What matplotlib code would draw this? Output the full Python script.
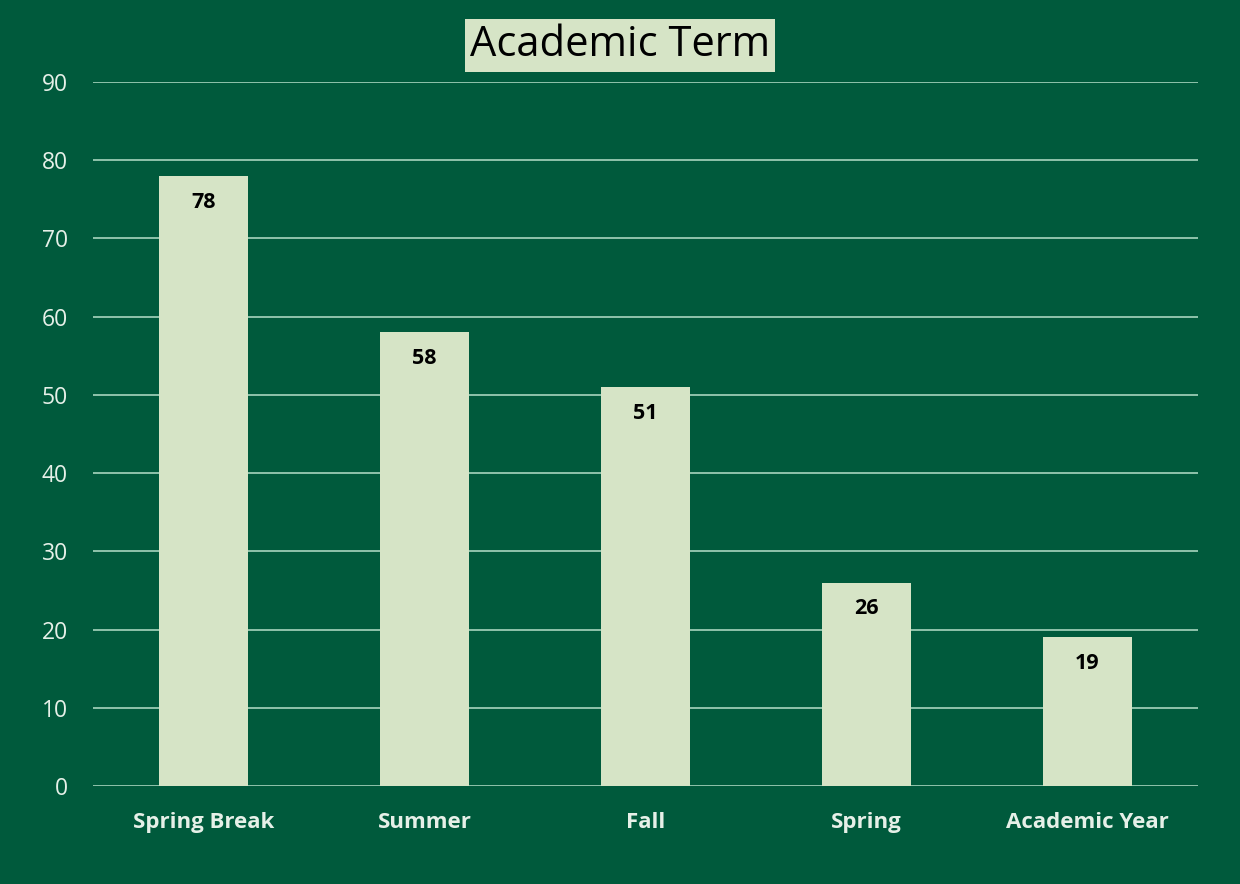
import matplotlib
matplotlib.use('Agg')
import matplotlib.pyplot as plt

terms = ['Spring Break', 'Summer', 'Fall', 'Spring', 'Academic Year']
counts = [78, 58, 51, 26, 19]
yticks = [0, 10, 20, 30, 40, 50, 60, 70, 80, 90]

bg = '#005A3C'
bar_color = '#D6E4C6'
grid_color = '#A8D5BE'
text_color = '#E6F0E8'

plt.rcParams['font.family'] = ['Open Sans', 'DejaVu Sans']

fig = plt.figure(figsize=(12.4, 8.84), dpi=100, facecolor=bg)
ax = fig.add_axes([0.075, 0.1109, 0.891, 0.7963], facecolor=bg)

x = list(range(len(terms)))
ax.bar(x, counts, width=0.4, color=bar_color, zorder=3)

for xi, c in zip(x, counts):
    ax.annotate(str(c), (xi, c), xytext=(0, -19), textcoords='offset points',
                ha='center', va='center', fontsize=15.5, fontweight='bold',
                color='black', zorder=4)

ax.set_xlim(-0.5, len(terms) - 0.5)
ax.set_ylim(0, 90)
ax.set_yticks(yticks)
ax.set_xticks(x)
ax.set_xticklabels(terms, fontsize=16, fontweight='bold', color=text_color)
ax.tick_params(axis='y', labelsize=16.5, labelcolor=text_color, length=0, pad=18)
ax.tick_params(axis='x', length=0, pad=19)
ax.yaxis.grid(True, color=grid_color, linewidth=1.2, zorder=0)
for s in ax.spines.values():
    s.set_visible(False)

fig.text(0.5, 0.949, 'Academic Term', ha='center', va='center', fontsize=30,
         color='black', bbox=dict(facecolor=bar_color, edgecolor='none', pad=4))

fig.savefig('out.png', dpi=100, facecolor=bg)
